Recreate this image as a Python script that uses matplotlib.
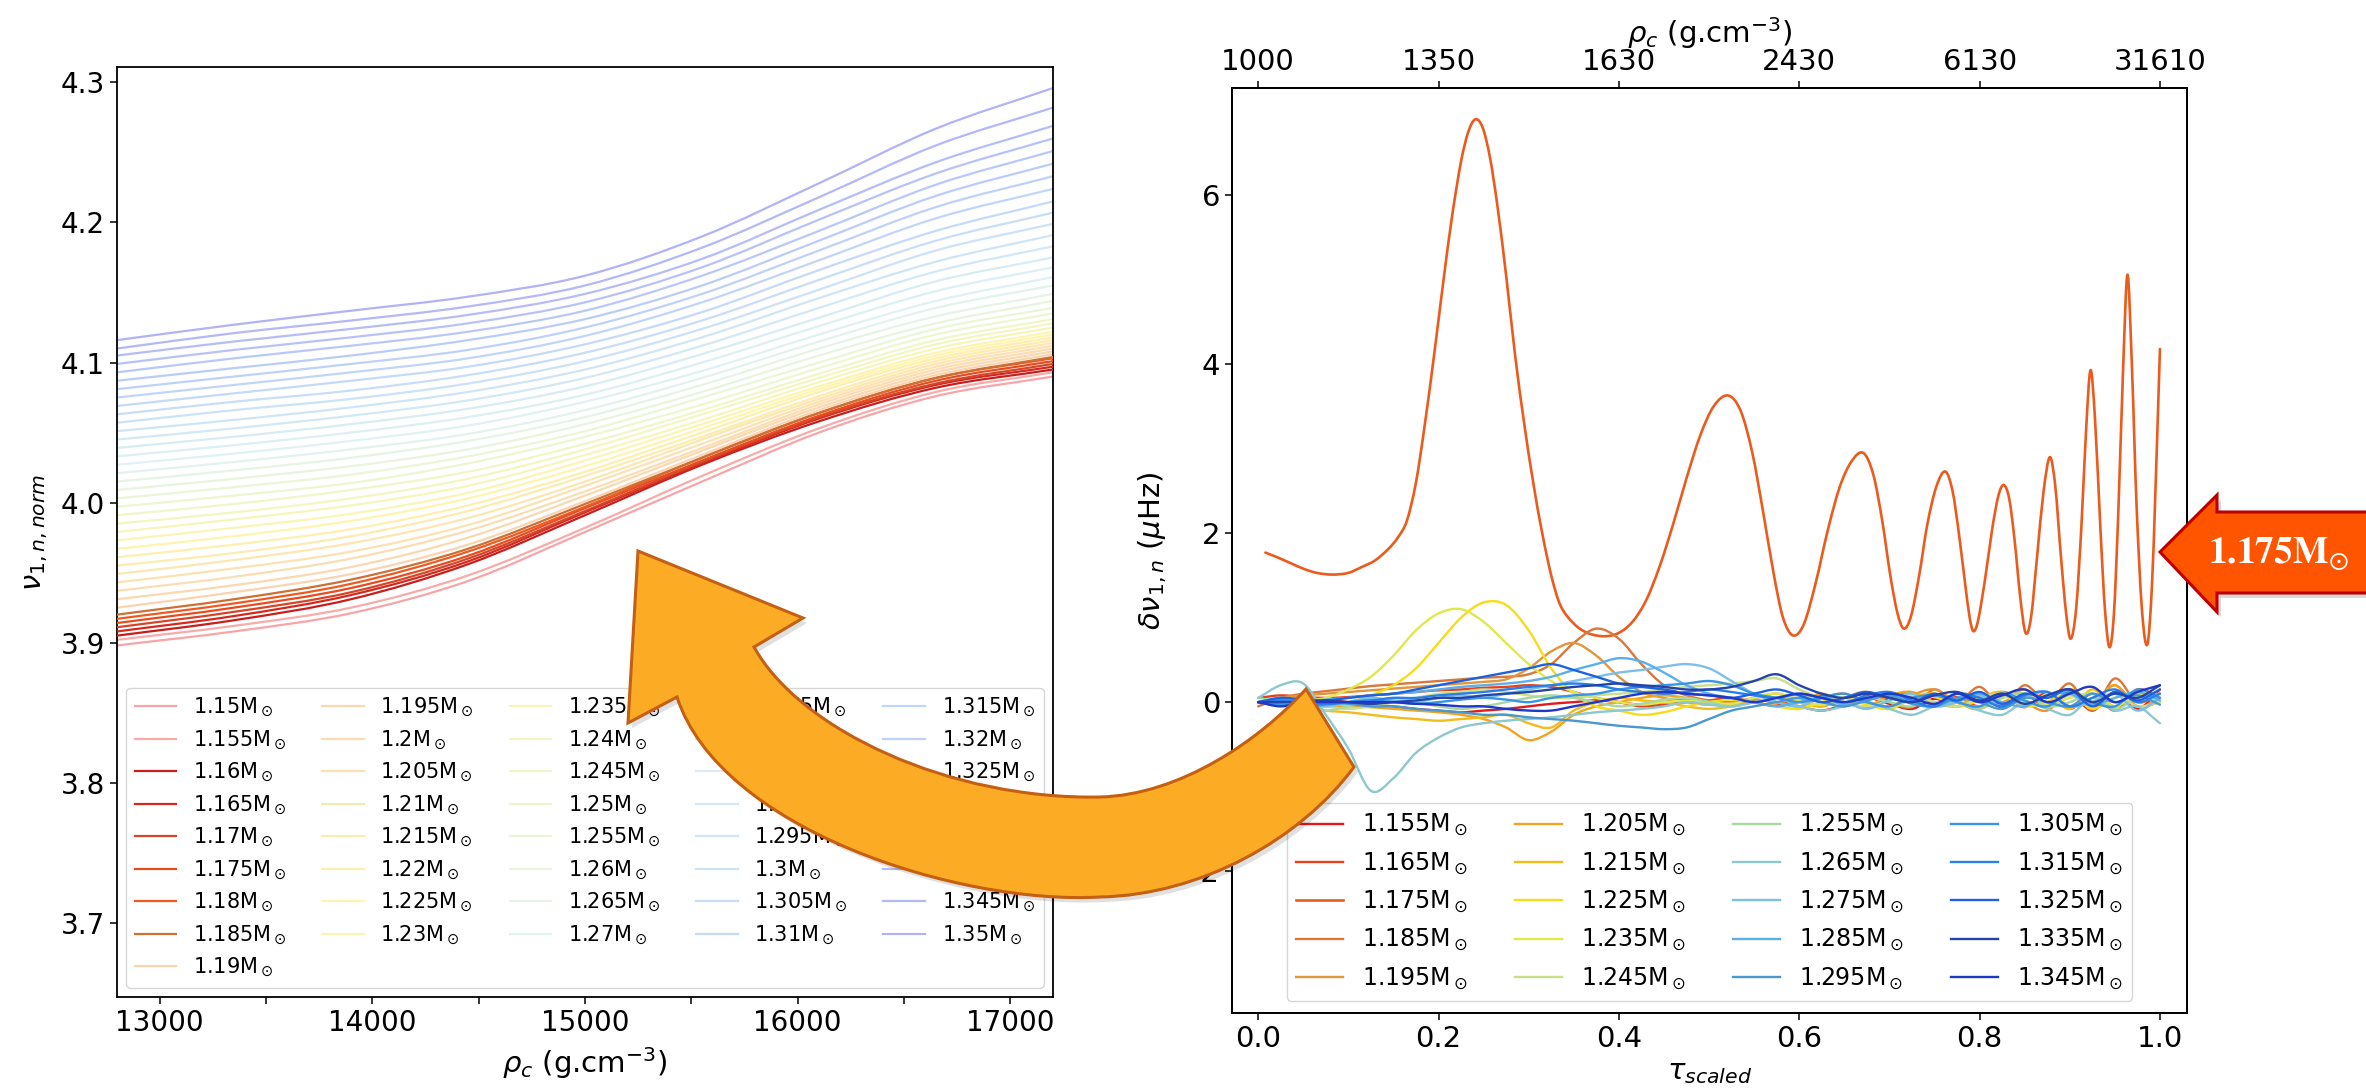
import numpy as np
import matplotlib
matplotlib.use('Agg')
import matplotlib.pyplot as plt
from matplotlib.colors import LinearSegmentedColormap
from matplotlib.lines import Line2D
from matplotlib.path import Path
from matplotlib.patches import PathPatch
from matplotlib.transforms import Affine2D
from matplotlib.ticker import MultipleLocator, FormatStrFormatter

W, H = 2366, 1090

# ------------------------------------------------------------------
# Left panel: normalised frequency vs central density, one line per mass
# ------------------------------------------------------------------
RHO_C = [12800, 13350, 13900, 14450, 15000, 15550, 16100, 16650, 17200]

MASSES_LEFT = [1.15, 1.155, 1.16, 1.165, 1.17, 1.175, 1.18, 1.185, 1.19,
               1.195, 1.2, 1.205, 1.21, 1.215, 1.22, 1.225, 1.23, 1.235,
               1.24, 1.245, 1.25, 1.255, 1.26, 1.265, 1.27, 1.275, 1.28,
               1.285, 1.29, 1.295, 1.3, 1.305, 1.31, 1.315, 1.32, 1.325,
               1.33, 1.335, 1.34, 1.345, 1.35]

NU_NORM = [
    [3.898, 3.908, 3.921, 3.944, 3.979, 4.015, 4.050, 4.076, 4.090],
    [3.902, 3.912, 3.925, 3.948, 3.982, 4.019, 4.053, 4.079, 4.093],
    [3.905, 3.916, 3.931, 3.956, 3.991, 4.027, 4.058, 4.082, 4.095],
    [3.908, 3.919, 3.934, 3.958, 3.993, 4.028, 4.060, 4.084, 4.097],
    [3.911, 3.922, 3.936, 3.960, 3.994, 4.029, 4.061, 4.085, 4.099],
    [3.914, 3.925, 3.939, 3.962, 3.996, 4.030, 4.062, 4.087, 4.101],
    [3.917, 3.928, 3.942, 3.965, 3.997, 4.032, 4.064, 4.089, 4.103],
    [3.920, 3.931, 3.945, 3.967, 3.999, 4.032, 4.064, 4.089, 4.104],
    [3.925, 3.936, 3.949, 3.970, 4.001, 4.034, 4.066, 4.091, 4.106],
    [3.931, 3.941, 3.954, 3.975, 4.005, 4.037, 4.068, 4.093, 4.108],
    [3.937, 3.947, 3.960, 3.980, 4.008, 4.039, 4.070, 4.095, 4.110],
    [3.943, 3.953, 3.965, 3.984, 4.012, 4.042, 4.072, 4.097, 4.112],
    [3.949, 3.959, 3.971, 3.989, 4.015, 4.045, 4.074, 4.099, 4.114],
    [3.955, 3.964, 3.976, 3.994, 4.019, 4.047, 4.076, 4.101, 4.116],
    [3.961, 3.970, 3.981, 3.998, 4.022, 4.050, 4.079, 4.103, 4.118],
    [3.967, 3.976, 3.987, 4.003, 4.026, 4.053, 4.081, 4.105, 4.120],
    [3.973, 3.982, 3.992, 4.007, 4.030, 4.056, 4.083, 4.107, 4.122],
    [3.979, 3.988, 3.998, 4.012, 4.034, 4.059, 4.086, 4.110, 4.125],
    [3.985, 3.993, 4.003, 4.017, 4.038, 4.063, 4.089, 4.113, 4.128],
    [3.991, 3.999, 4.009, 4.022, 4.042, 4.066, 4.092, 4.116, 4.131],
    [3.997, 4.005, 4.014, 4.028, 4.047, 4.070, 4.096, 4.120, 4.135],
    [4.003, 4.011, 4.020, 4.033, 4.051, 4.075, 4.100, 4.124, 4.139],
    [4.009, 4.017, 4.026, 4.038, 4.056, 4.079, 4.105, 4.128, 4.144],
    [4.015, 4.023, 4.032, 4.044, 4.061, 4.084, 4.110, 4.133, 4.149],
    [4.021, 4.029, 4.038, 4.049, 4.066, 4.089, 4.115, 4.139, 4.155],
    [4.027, 4.035, 4.044, 4.055, 4.072, 4.094, 4.120, 4.144, 4.161],
    [4.033, 4.041, 4.050, 4.061, 4.077, 4.100, 4.126, 4.151, 4.168],
    [4.039, 4.047, 4.056, 4.067, 4.083, 4.106, 4.132, 4.158, 4.175],
    [4.045, 4.053, 4.062, 4.073, 4.089, 4.112, 4.139, 4.165, 4.183],
    [4.051, 4.059, 4.068, 4.079, 4.095, 4.118, 4.146, 4.172, 4.191],
    [4.057, 4.066, 4.074, 4.085, 4.101, 4.124, 4.152, 4.180, 4.199],
    [4.063, 4.072, 4.080, 4.091, 4.107, 4.130, 4.159, 4.187, 4.207],
    [4.069, 4.078, 4.087, 4.097, 4.113, 4.136, 4.166, 4.194, 4.215],
    [4.075, 4.084, 4.093, 4.103, 4.119, 4.143, 4.173, 4.203, 4.224],
    [4.081, 4.090, 4.099, 4.109, 4.125, 4.149, 4.180, 4.211, 4.233],
    [4.087, 4.096, 4.105, 4.116, 4.131, 4.155, 4.187, 4.219, 4.242],
    [4.093, 4.103, 4.112, 4.122, 4.137, 4.162, 4.194, 4.227, 4.251],
    [4.099, 4.109, 4.118, 4.128, 4.143, 4.168, 4.202, 4.235, 4.260],
    [4.105, 4.115, 4.124, 4.134, 4.149, 4.174, 4.209, 4.243, 4.269],
    [4.110, 4.121, 4.130, 4.140, 4.155, 4.182, 4.218, 4.255, 4.282],
    [4.116, 4.127, 4.137, 4.147, 4.162, 4.190, 4.228, 4.267, 4.296],
]

# bold (opaque) lines in the left panel
BOLD_LEFT = {1.16: '#c81e1e', 1.165: '#d42a1e', 1.17: '#d4462a',
             1.175: '#e84c1e', 1.18: '#ee5a22', 1.185: '#cc7034'}

# ------------------------------------------------------------------
# Right panel: frequency residuals vs scaled acoustic radius
# ------------------------------------------------------------------
TAU_TICKS = [0.0, 0.2, 0.4, 0.6, 0.8, 1.0]
RHO_TOP_LABELS = ['1000', '1350', '1630', '2430', '6130', '31610']

TAU_175 = [0.008, 0.02, 0.035, 0.05, 0.065, 0.082, 0.10, 0.115, 0.13, 0.145,
           0.155, 0.165, 0.175, 0.185, 0.195, 0.205, 0.215, 0.225, 0.233,
           0.241, 0.249, 0.257, 0.265, 0.275, 0.285, 0.295, 0.305, 0.315,
           0.325, 0.335, 0.35, 0.365, 0.384, 0.40, 0.415, 0.43, 0.445, 0.46,
           0.475, 0.49, 0.505, 0.521, 0.535, 0.548, 0.56, 0.572, 0.582,
           0.593, 0.605, 0.618, 0.632, 0.645, 0.658, 0.671, 0.682, 0.692,
           0.701, 0.709, 0.716, 0.724, 0.733, 0.742, 0.752, 0.762, 0.77,
           0.777, 0.784, 0.789, 0.793, 0.798, 0.806, 0.814, 0.821, 0.827,
           0.833, 0.839, 0.845, 0.851, 0.857, 0.864, 0.871, 0.878, 0.884,
           0.89, 0.896, 0.901, 0.907, 0.913, 0.918, 0.923, 0.928, 0.934,
           0.939, 0.944, 0.949, 0.954, 0.959, 0.964, 0.969, 0.974, 0.98,
           0.986, 0.991, 0.995, 1.0]
DNU_175 = [1.77, 1.72, 1.65, 1.58, 1.53, 1.51, 1.53, 1.60, 1.68, 1.82,
           1.95, 2.15, 2.60, 3.30, 4.10, 4.95, 5.75, 6.40, 6.75,
           6.90, 6.80, 6.45, 5.90, 5.05, 4.10, 3.30, 2.60, 2.00,
           1.50, 1.15, 0.93, 0.82, 0.78, 0.82, 0.95, 1.20, 1.60, 2.10,
           2.65, 3.15, 3.50, 3.63, 3.45, 2.95, 2.25, 1.50, 1.00,
           0.79, 0.92, 1.40, 2.05, 2.55, 2.85, 2.95, 2.70, 2.15,
           1.50, 1.05, 0.87, 1.02, 1.50, 2.10, 2.55, 2.73, 2.50,
           2.00, 1.40, 1.00, 0.84, 0.95, 1.45, 2.05, 2.45, 2.57,
           2.40, 1.90, 1.25, 0.82, 1.00, 1.75, 2.50, 2.90, 2.55,
           1.75, 1.05, 0.75, 1.10, 2.10, 3.20, 3.93, 3.35, 2.05,
           1.10, 0.65, 1.05, 2.30, 3.90, 5.06, 3.95, 2.35, 1.10,
           0.68, 1.35, 2.50, 4.18]

TAU_GRID = [0.0, 0.025, 0.05, 0.075, 0.1, 0.125, 0.15, 0.175, 0.2, 0.225,
            0.25, 0.275, 0.3, 0.325, 0.35, 0.375, 0.4, 0.425, 0.45, 0.475,
            0.5, 0.525, 0.55, 0.575, 0.6, 0.625, 0.65, 0.675, 0.7, 0.725,
            0.75, 0.775, 0.8, 0.825, 0.85, 0.875, 0.9, 0.925, 0.95, 0.975,
            1.0]

MASSES_RIGHT = [1.155, 1.165, 1.175, 1.185, 1.195, 1.205, 1.215, 1.225,
                1.235, 1.245, 1.255, 1.265, 1.275, 1.285, 1.295, 1.305,
                1.315, 1.325, 1.335, 1.345]

DNU_OTHERS = {
    1.155: [0.0, 0.02, 0.03, 0.02, 0.0, -0.03, -0.05, -0.08, -0.1, -0.12, -0.1, -0.08, -0.05, -0.02, 0.0, 0.02, 0.0, -0.03, 0.0, 0.03, 0.0, -0.02, 0.02, 0.0, -0.05, -0.1, -0.03, 0.05, -0.02, -0.08, 0.04, -0.05, 0.06, -0.06, 0.08, -0.05, 0.1, -0.1, 0.12, -0.08, 0.15],
    1.165: [0.05, 0.08, 0.06, 0.05, 0.06, 0.08, 0.1, 0.12, 0.14, 0.15, 0.17, 0.18, 0.2, 0.18, 0.12, 0.05, 0.0, -0.05, -0.03, 0.0, 0.02, 0.05, 0.0, -0.04, 0.05, 0.08, 0.0, -0.06, 0.05, 0.1, -0.03, 0.06, -0.05, 0.1, -0.06, 0.12, -0.08, 0.1, -0.1, 0.15, 0.05],
    1.185: [-0.05, 0.05, 0.1, 0.13, 0.16, 0.19, 0.21, 0.23, 0.25, 0.27, 0.29, 0.3, 0.33, 0.45, 0.7, 0.87, 0.75, 0.45, 0.2, 0.08, 0.02, 0.0, 0.05, 0.1, 0.02, -0.05, 0.05, 0.12, 0.0, -0.06, 0.15, 0.0, 0.18, -0.05, 0.2, 0.0, 0.22, -0.1, 0.28, 0.0, 0.1],
    1.195: [0.0, 0.05, 0.08, 0.1, 0.12, 0.14, 0.16, 0.18, 0.2, 0.22, 0.24, 0.27, 0.4, 0.6, 0.7, 0.55, 0.3, 0.12, 0.05, 0.0, -0.03, 0.0, 0.03, 0.0, -0.05, 0.05, 0.1, 0.0, -0.05, 0.08, 0.15, 0.0, -0.08, 0.12, 0.0, -0.1, 0.15, 0.0, 0.2, -0.05, 0.05],
    1.205: [0.0, -0.02, -0.03, -0.05, -0.05, -0.06, -0.08, -0.1, -0.12, -0.15, -0.2, -0.3, -0.45, -0.35, -0.15, -0.05, 0.0, 0.05, 0.08, 0.05, 0.0, -0.02, 0.0, 0.05, 0.02, 0.1, 0.0, -0.05, 0.08, 0.12, 0.0, -0.05, 0.1, 0.0, 0.15, -0.05, 0.12, 0.0, 0.2, -0.05, 0.0],
    1.215: [0.0, 0.0, -0.05, -0.1, -0.12, -0.15, -0.18, -0.2, -0.22, -0.2, -0.18, -0.15, -0.25, -0.3, -0.1, 0.0, 0.05, 0.02, 0.0, -0.05, -0.08, -0.05, 0.0, 0.05, 0.0, -0.05, 0.05, 0.0, -0.08, 0.05, 0.1, -0.05, 0.05, 0.12, -0.05, 0.08, -0.08, 0.15, -0.05, 0.12, 0.05],
    1.225: [0.0, -0.02, -0.05, -0.05, 0.0, 0.08, 0.2, 0.4, 0.7, 1.0, 1.18, 1.15, 0.85, 0.4, 0.1, -0.05, -0.1, -0.15, -0.12, -0.05, 0.0, 0.03, 0.0, -0.05, -0.08, 0.0, 0.05, -0.03, -0.08, 0.03, 0.06, -0.05, 0.02, 0.08, -0.05, 0.0, 0.1, -0.08, 0.05, 0.1, 0.0],
    1.235: [0.0, 0.0, 0.02, 0.05, 0.15, 0.3, 0.55, 0.85, 1.05, 1.1, 0.95, 0.7, 0.45, 0.25, 0.12, 0.05, 0.0, -0.03, 0.0, 0.02, 0.0, -0.02, 0.05, 0.1, 0.02, -0.03, 0.05, 0.0, -0.05, 0.03, 0.08, 0.0, -0.05, 0.05, 0.1, -0.03, 0.05, 0.1, -0.05, 0.08, 0.0],
    1.245: [0.0, 0.02, 0.0, -0.05, -0.08, -0.05, 0.0, 0.05, 0.1, 0.12, 0.15, 0.12, 0.08, 0.05, 0.05, 0.08, 0.1, 0.12, 0.15, 0.18, 0.2, 0.22, 0.25, 0.28, 0.15, 0.05, 0.0, -0.05, 0.02, 0.08, 0.0, -0.05, 0.05, 0.1, 0.0, -0.05, 0.08, 0.0, 0.1, -0.05, 0.0],
    1.255: [0.05, 0.0, -0.05, -0.1, -0.05, 0.0, 0.05, 0.0, -0.05, -0.08, -0.05, 0.0, 0.05, 0.08, 0.05, 0.0, -0.05, -0.02, 0.03, 0.05, 0.0, -0.05, 0.0, 0.05, 0.08, 0.0, -0.05, 0.05, 0.0, -0.05, 0.08, 0.0, -0.08, 0.05, 0.1, -0.05, 0.0, 0.1, -0.08, 0.05, 0.1],
    1.265: [0.05, 0.2, 0.22, -0.15, -0.55, -1.05, -0.9, -0.6, -0.42, -0.3, -0.25, -0.22, -0.2, -0.18, -0.15, -0.12, -0.1, -0.08, -0.05, 0.0, -0.03, -0.05, 0.0, 0.05, -0.05, -0.1, -0.05, 0.0, -0.08, -0.15, -0.05, 0.0, -0.1, -0.15, 0.0, -0.08, -0.15, 0.05, -0.1, -0.05, -0.25],
    1.275: [0.0, 0.05, 0.0, -0.05, 0.0, 0.05, 0.02, 0.0, 0.05, 0.08, 0.05, 0.1, 0.15, 0.2, 0.25, 0.3, 0.35, 0.38, 0.42, 0.45, 0.4, 0.25, 0.1, 0.0, -0.05, 0.05, 0.0, -0.08, 0.02, 0.1, -0.05, 0.0, 0.08, -0.05, 0.05, 0.12, -0.05, 0.0, 0.1, -0.1, 0.05],
    1.285: [0.0, -0.02, 0.0, 0.03, 0.05, 0.08, 0.1, 0.12, 0.15, 0.18, 0.2, 0.22, 0.25, 0.3, 0.38, 0.45, 0.52, 0.48, 0.35, 0.2, 0.1, 0.05, 0.0, -0.05, 0.0, 0.05, -0.03, 0.02, 0.08, 0.0, -0.05, 0.05, 0.1, 0.0, -0.05, 0.08, 0.1, -0.03, 0.05, 0.12, 0.02],
    1.295: [0.0, 0.0, 0.02, 0.0, -0.02, -0.05, -0.05, -0.08, -0.1, -0.12, -0.15, -0.15, -0.18, -0.2, -0.22, -0.25, -0.28, -0.3, -0.32, -0.3, -0.2, -0.1, -0.05, 0.0, 0.05, 0.0, -0.05, 0.02, 0.08, -0.02, -0.05, 0.05, 0.0, -0.08, 0.05, 0.0, -0.05, 0.1, 0.0, 0.08, -0.03],
    1.305: [0.0, -0.03, -0.05, -0.03, 0.0, 0.02, 0.0, -0.02, 0.0, 0.03, 0.05, 0.03, 0.0, 0.05, 0.08, 0.1, 0.15, 0.18, 0.2, 0.22, 0.25, 0.2, 0.1, 0.05, 0.0, 0.05, 0.1, 0.0, -0.05, 0.05, 0.08, 0.0, -0.05, 0.1, 0.02, -0.05, 0.12, 0.0, -0.05, 0.15, 0.05],
    1.315: [0.0, 0.02, 0.0, -0.02, 0.0, 0.02, 0.05, 0.05, 0.08, 0.1, 0.12, 0.15, 0.18, 0.2, 0.22, 0.2, 0.15, 0.12, 0.1, 0.12, 0.15, 0.12, 0.08, 0.05, 0.1, 0.05, 0.0, 0.08, 0.12, 0.02, -0.05, 0.1, 0.05, -0.05, 0.08, 0.12, -0.05, 0.05, 0.15, 0.0, 0.1],
    1.325: [0.0, 0.05, 0.03, 0.02, 0.05, 0.08, 0.1, 0.15, 0.2, 0.25, 0.3, 0.35, 0.4, 0.45, 0.38, 0.3, 0.22, 0.18, 0.15, 0.1, 0.08, 0.05, 0.1, 0.15, 0.08, 0.0, 0.05, 0.12, 0.05, 0.0, 0.1, 0.02, 0.12, -0.02, 0.1, 0.05, 0.15, -0.05, 0.12, 0.02, 0.15],
    1.335: [0.0, 0.0, 0.0, 0.02, 0.0, -0.02, 0.0, 0.02, 0.05, 0.05, 0.08, 0.1, 0.12, 0.15, 0.18, 0.2, 0.22, 0.2, 0.18, 0.15, 0.15, 0.18, 0.25, 0.33, 0.2, 0.1, 0.05, 0.1, 0.05, 0.0, 0.08, 0.12, 0.02, 0.1, -0.02, 0.08, 0.15, 0.0, 0.1, 0.05, 0.2],
    1.345: [0.0, -0.05, 0.0, 0.0, 0.0, 0.0, 0.0, -0.02, -0.03, -0.05, -0.05, -0.08, -0.1, -0.1, -0.05, 0.0, 0.05, 0.1, 0.12, 0.1, 0.08, 0.05, 0.0, 0.05, 0.1, 0.05, 0.0, 0.05, 0.1, 0.05, -0.02, 0.1, 0.0, 0.08, 0.15, 0.0, 0.1, 0.18, 0.0, 0.12, 0.2],
}

COLORS_RIGHT = ['#e31a1c', '#e8401c', '#ea5b1d', '#d9783a', '#e0963a',
                '#f0a422', '#f4bb1c', '#f7dc1a', '#dfe84c', '#c9df8a',
                '#a8d8a0', '#8cc8cc', '#7cc0ea', '#5ab0ea', '#4a98d0',
                '#3a94e4', '#2a7ee8', '#1f62e0', '#2544a8', '#1f38c8']

LEFT_CMAP = LinearSegmentedColormap.from_list(
    'left', ['#ec2a30', '#f07a3a', '#f6b04a', '#ffe640', '#d6ec8c',
             '#b4e0e4', '#84bcee', '#5c8cf2', '#4848ee'])

M, L, C4, CL = Path.MOVETO, Path.LINETO, Path.CURVE4, Path.CLOSEPOLY


def mass_label(m):
    return f'{m:g}M$_\\odot$'


def smooth_path(x, y):
    """Bezier path through every (x, y) point, tangents from neighbours."""
    x = np.asarray(x, float)
    y = np.asarray(y, float)
    slope = np.empty_like(y)
    slope[1:-1] = (y[2:] - y[:-2]) / (x[2:] - x[:-2])
    slope[0] = (y[1] - y[0]) / (x[1] - x[0])
    slope[-1] = (y[-1] - y[-2]) / (x[-1] - x[-2])
    verts, codes = [(x[0], y[0])], [M]
    for i in range(len(x) - 1):
        h = x[i + 1] - x[i]
        verts += [(x[i] + h / 3, y[i] + slope[i] * h / 3),
                  (x[i + 1] - h / 3, y[i + 1] - slope[i + 1] * h / 3),
                  (x[i + 1], y[i + 1])]
        codes += [C4, C4, C4]
    return Path(verts, codes)


def draw_line(ax, x, y, label, **kw):
    ax.add_patch(PathPatch(smooth_path(x, y), fill=False, capstyle='round',
                           joinstyle='round', **kw))
    kw.pop('zorder', None)
    return Line2D([], [], label=label, **{('lw' if k == 'lw' else k): v
                                           for k, v in kw.items()
                                           if k in ('lw', 'alpha')},
                  color=kw['edgecolor'])


plt.rcParams['font.family'] = 'DejaVu Sans'
fig = plt.figure(figsize=(W / 100, H / 100), dpi=100)

# ---------------- left panel ----------------
ax_l = fig.add_axes([117 / W, 1 - 997 / H, 936 / W, 930 / H])
n = len(MASSES_LEFT)
handles_l = []
for i, (m, nu) in enumerate(zip(MASSES_LEFT, NU_NORM)):
    if m in BOLD_LEFT:
        h = draw_line(ax_l, RHO_C, nu, mass_label(m), edgecolor=BOLD_LEFT[m],
                      lw=1.6, zorder=3)
    else:
        h = draw_line(ax_l, RHO_C, nu, mass_label(m),
                      edgecolor=LEFT_CMAP(i / (n - 1)), lw=1.6, alpha=0.42,
                      zorder=2)
    handles_l.append(h)
ax_l.set_xlim(12800, 17200)
ax_l.set_ylim(3.647, 4.311)
ax_l.xaxis.set_major_locator(MultipleLocator(1000))
ax_l.xaxis.set_minor_locator(MultipleLocator(500))
ax_l.yaxis.set_major_locator(MultipleLocator(0.1))
ax_l.yaxis.set_major_formatter(FormatStrFormatter('%.1f'))
ax_l.tick_params(which='both', length=5, width=1.1, labelsize=20)
ax_l.set_xlabel(r'$\rho_c$ (g.cm$^{-3}$)', fontsize=21, labelpad=6)
ax_l.set_ylabel(r'$\nu_{1,n,norm}$', fontsize=21, labelpad=8)
ax_l.legend(handles=handles_l, ncol=5, loc='lower left', mode='expand',
            bbox_to_anchor=(0, 0, 1, 1), fontsize=15, labelspacing=0.45,
            handlelength=2.0, borderaxespad=0.45)

# ---------------- right panel ----------------
ax_r = fig.add_axes([1232 / W, 1 - 1013 / H, 955 / W, 925 / H])
handles_r = []
for m, c in zip(MASSES_RIGHT, COLORS_RIGHT):
    if m == 1.175:
        h = draw_line(ax_r, TAU_175, DNU_175, mass_label(m), edgecolor=c,
                      lw=1.9, zorder=2)
    else:
        h = draw_line(ax_r, TAU_GRID, DNU_OTHERS[m], mass_label(m),
                      edgecolor=c, lw=1.7, zorder=2)
    handles_r.append(h)
ax_r.set_xlim(-0.029, 1.03)
ax_r.set_ylim(-3.68, 7.27)
ax_r.set_xticks(TAU_TICKS)
ax_r.xaxis.set_major_formatter(FormatStrFormatter('%.1f'))
ax_r.set_yticks([-2, 0, 2, 4, 6])
ax_r.tick_params(length=5, width=1.1, labelsize=21)
ax_r.set_xlabel(r'$\tau_{scaled}$', fontsize=21, labelpad=4)
ax_r.set_ylabel(r'$\delta\nu_{1,n}$ ($\mu$Hz)', fontsize=21, labelpad=6)
ax_r.legend(handles=handles_r, ncol=4, loc='lower center', fontsize=17,
            labelspacing=0.5, borderaxespad=0.5)

ax_t = ax_r.twiny()
ax_t.set_xlim(ax_r.get_xlim())
ax_t.set_xticks(TAU_TICKS)
ax_t.set_xticklabels(RHO_TOP_LABELS)
ax_t.tick_params(length=5, width=1.1, labelsize=21)
ax_t.set_xlabel(r'$\rho_c$ (g.cm$^{-3}$)', fontsize=21, labelpad=4)

for a in (ax_l, ax_r, ax_t):
    for s in a.spines.values():
        s.set_linewidth(1.3)

# ---------------- annotation arrows (figure pixel coords, y down) ----------
px = Affine2D().scale(1 / W, -1 / H).translate(0, 1) + fig.transFigure

big_verts = [(638, 551), (803, 618), (754, 647),
             (800, 730), (950, 800), (1100, 797),
             (1180, 795), (1260, 740), (1306, 689),
             (1354, 767),
             (1300, 840), (1200, 895), (1100, 897),
             (960, 905), (720, 830), (677, 697),
             (628, 723), (638, 551)]
big_codes = [M, L, L, C4, C4, C4, C4, C4, C4, L, C4, C4, C4, C4, C4, C4, L, CL]
big_path = Path(big_verts, big_codes)

shadow = Affine2D().translate(4, 5)
fig.add_artist(PathPatch(big_path, transform=shadow + px, facecolor='#000000',
                         alpha=0.12, edgecolor='none', zorder=9))
fig.add_artist(PathPatch(big_path, transform=px, facecolor='#fbab24',
                         edgecolor='#c55f12', lw=2.2, zorder=10))

red_verts = [(2160, 552), (2217, 495), (2217, 512), (2390, 512), (2390, 593),
             (2217, 593), (2217, 612), (2160, 552)]
red_codes = [M, L, L, L, L, L, L, CL]
red_path = Path(red_verts, red_codes)
fig.add_artist(PathPatch(red_path, transform=shadow + px, facecolor='#000000',
                         alpha=0.15, edgecolor='none', zorder=9))
fig.add_artist(PathPatch(red_path, transform=px, facecolor='#ff5400',
                         edgecolor='#c00000', lw=2.2, zorder=10))
fig.text(2278 / W, 1 - 553 / H, r'$\mathbf{1.175M}_{\odot}$', color='white',
         fontsize=27, ha='center', va='center', math_fontfamily='stix',
         zorder=11)

fig.savefig('out.png', dpi=100)
